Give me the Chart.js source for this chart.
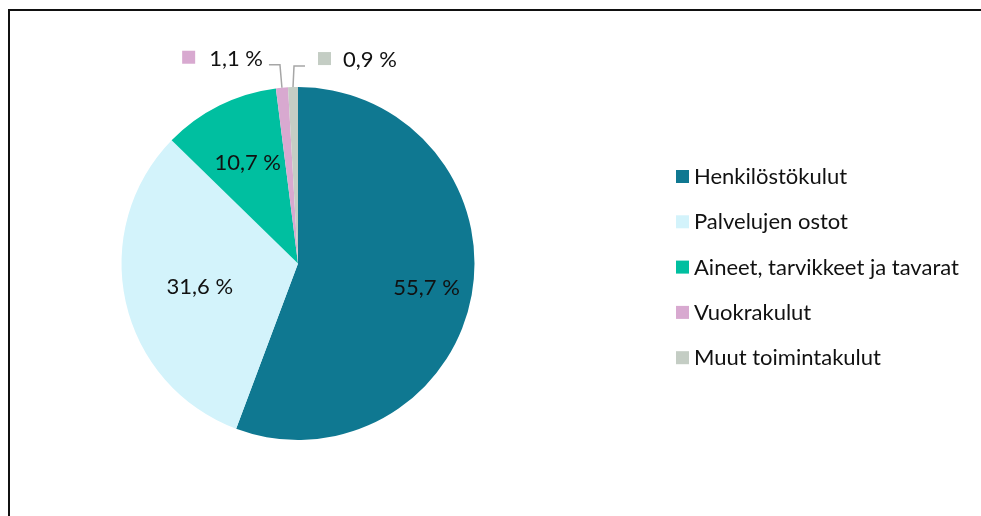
<!DOCTYPE html>
<html lang="fi">
<head>
  <meta charset="UTF-8">
  <title>Kulujen jakauma</title>
  <script src="https://cdn.jsdelivr.net/npm/chart.js"></script>
  <style>
    html, body { margin: 0; padding: 0; background: #fff; }
    .wrap { position: relative; width: 981px; height: 516px; overflow: hidden; }
    .frame { position: absolute; left: 8px; top: 9px; width: 990px; height: 520px;
             border-top: 2px solid #111; border-left: 2px solid #111; }
    canvas { position: absolute; left: 0; top: 0; }
  </style>
</head>
<body>
  <div class="wrap">
    <div class="frame"></div>
    <canvas id="pieChart" width="981" height="516"></canvas>
  </div>
  <script>
    const categories = ['Henkilöstökulut', 'Palvelujen ostot', 'Aineet, tarvikkeet ja tavarat', 'Vuokrakulut', 'Muut toimintakulut'];
    const shares = [55.7, 31.6, 10.7, 1.1, 0.9];
    const colors = ['#0f7891', '#d3f3fb', '#00bfa0', '#d8a9d0', '#c4cdc4'];

    const FONT = 'Lato, "Open Sans", sans-serif';
    const fmt = v => v.toFixed(1).replace('.', ',') + ' %';

    // sisälabelien etäisyys keskipisteestä (osuus säteestä), pienet siivut ulos
    const labelRadius = [0.74, 0.57, 0.64, null, null];

    const labelsPlugin = {
      id: 'pieLabels',
      afterDatasetsDraw(chart) {
        const ctx = chart.ctx;
        const arcs = chart.getDatasetMeta(0).data;
        ctx.save();
        ctx.font = '22px ' + FONT;
        ctx.fillStyle = '#111';
        ctx.textBaseline = 'middle';
        arcs.forEach((arc, i) => {
          const p = arc.getProps(['x', 'y', 'startAngle', 'endAngle', 'outerRadius'], true);
          const mid = (p.startAngle + p.endAngle) / 2;
          if (labelRadius[i] !== null) {
            const r = p.outerRadius * labelRadius[i];
            ctx.textAlign = 'center';
            ctx.fillText(fmt(shares[i]), p.x + Math.cos(mid) * r, p.y + Math.sin(mid) * r + 1);
            return;
          }
          // ulkopuolinen label johtoviivalla
          const ax = p.x + Math.cos(mid) * p.outerRadius;
          const ay = p.y + Math.sin(mid) * p.outerRadius;
          const left = i === 3;
          const ex = ax + (left ? -2 : 1);
          const ey = ay - (left ? 23 : 21);
          const hx = ex + (left ? -11 : 11);
          ctx.strokeStyle = '#a6a6a6';
          ctx.lineWidth = 1.5;
          ctx.beginPath();
          ctx.moveTo(ax, ay);
          ctx.lineTo(ex, ey);
          ctx.lineTo(hx, ey);
          ctx.stroke();
          const tw = ctx.measureText(fmt(shares[i])).width;
          let sx, tx;
          if (left) {
            tx = hx - 6 - tw;
            sx = tx - 27;
          } else {
            sx = hx + 13;
            tx = sx + 25;
          }
          ctx.fillStyle = colors[i];
          ctx.fillRect(sx, ey - 14, 13, 13);
          ctx.fillStyle = '#111';
          ctx.textAlign = 'left';
          ctx.fillText(fmt(shares[i]), tx, ey - 6);
        });
        ctx.restore();
      },
      afterDraw(chart) {
        // selite oikealla
        const ctx = chart.ctx;
        ctx.save();
        ctx.font = '22px ' + FONT;
        ctx.textBaseline = 'middle';
        ctx.textAlign = 'left';
        categories.forEach((c, i) => {
          const y = 176 + i * 45.3;
          ctx.fillStyle = colors[i];
          ctx.fillRect(676, y - 6, 13, 13);
          ctx.fillStyle = '#111';
          ctx.fillText(c, 694, y + 1);
        });
        ctx.restore();
      }
    };

    new Chart(document.getElementById('pieChart').getContext('2d'), {
      type: 'pie',
      data: {
        labels: categories,
        datasets: [{ data: shares, backgroundColor: colors, borderWidth: 0 }]
      },
      options: {
        responsive: false,
        animation: false,
        layout: { padding: { left: 121, right: 506, top: 87, bottom: 76 } },
        plugins: { legend: { display: false }, tooltip: { enabled: false } }
      },
      plugins: [labelsPlugin]
    });
  </script>
</body>
</html>
